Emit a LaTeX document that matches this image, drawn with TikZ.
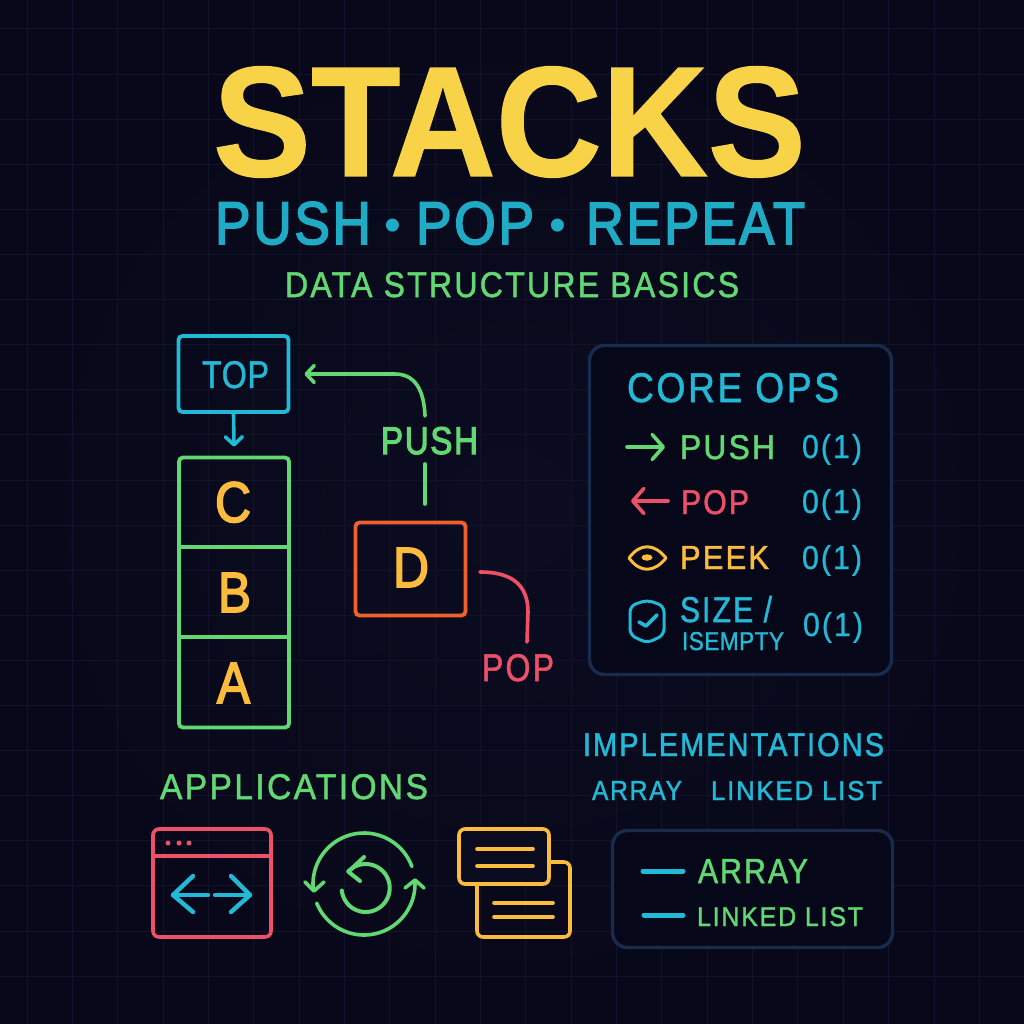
\documentclass[tikz,border=0pt]{standalone}
\usepackage{fontspec}
\usepackage{graphicx}
\usetikzlibrary{arrows.meta}
\setmainfont{Liberation Sans}
\newfontfamily\fr[FakeBold=1.4,LetterSpace=7]{Liberation Sans}
\newfontfamily\fs[FakeBold=1.2,LetterSpace=2]{Liberation Sans}
\newfontfamily\fo[FakeBold=0.8,LetterSpace=7]{Liberation Sans}
\newfontfamily\fm[FakeBold=3,LetterSpace=5]{Liberation Sans}
\newfontfamily\ft[FakeBold=0.8]{Liberation Sans Bold}
\definecolor{bgA}{HTML}{0C0C21}
\definecolor{bgB}{HTML}{08081A}
\definecolor{gridc}{HTML}{12122B}
\definecolor{panelf}{HTML}{07071A}
\definecolor{panelb}{HTML}{1A2A4A}
\definecolor{gold}{HTML}{F8D347}
\definecolor{cya}{HTML}{22B9D6}
\definecolor{gre}{HTML}{62D872}
\definecolor{amb}{HTML}{FBBB3C}
\definecolor{redd}{HTML}{EF5069}
\definecolor{orng}{HTML}{F0602F}
\tikzset{
  lab/.style={inner sep=0pt,outer sep=0pt,anchor=base west},
  boxx/.style={draw,line width=3.8pt,rounded corners=4pt,inner sep=0pt,minimum width=#1},
  panel/.style={draw=panelb,fill=panelf,fill opacity=.85,line width=3.4pt,rounded corners=15pt,inner sep=0pt},
  conn/.style={line width=3.6pt,line cap=round,line join=round},
  ico/.style={line width=3.6pt,line cap=round,line join=round},
  barb/.tip={Straight Barb[length=8pt,width=17pt,round]},
}
\newcommand\lbl[7]{\node[lab,text=#6] (#1) at (#2,#3) {\resizebox{#4pt}{#5pt}{#7}};}
\begin{document}
\begin{tikzpicture}[x=1pt,y=-1pt]
\useasboundingbox (0,0) rectangle (1024,1024);
\shade[inner color=bgA,outer color=bgB] (0,0) rectangle (1024,1024);
\foreach \i in {0,...,21}{
  \draw[gridc,line width=1pt] ({27+45.35*\i},0) -- ({27+45.35*\i},1024);
  \draw[gridc,line width=1pt] (0,{29+45.1*\i}) -- (1024,{29+45.1*\i});
}
% titles
\lbl{title}{213}{176}{592}{109.5}{gold}{\ft STACKS}
\lbl{subA}{215}{244}{156}{42}{cya!92!black}{\fm PUSH}
\node[lab,anchor=base,text=cya!92!black,font=\fontsize{48}{48}\selectfont] (dotA) at (392.5,241) {•};
\lbl{subB}{416}{244}{118}{42}{cya!92!black}{\fm POP}
\node[lab,anchor=base,text=cya!92!black,font=\fontsize{48}{48}\selectfont] (dotB) at (558,241) {•};
\lbl{subC}{586}{244}{219}{41}{cya!92!black}{\fm REPEAT}
\lbl{subtitle}{285}{297}{454}{25}{gre}{\fr DATA STRUCTURE BASICS}
% stack
\node[boxx=110pt,draw=cya,minimum height=76pt] (top) at (233.5,374) {};
\lbl{topt}{202}{388}{67}{27}{cya}{\fs TOP}
\node[boxx=110pt,draw=gre,minimum height=270pt] (stack) at (234,592.5) {};
\coordinate (d1l) at (179,547); \coordinate (d1r) at (289,547);
\coordinate (d2l) at (179,637); \coordinate (d2r) at (289,637);
\draw[gre,line width=3.8pt] (d1l) -- (d1r);
\draw[gre,line width=3.8pt] (d2l) -- (d2r);
\lbl{cC}{215}{522}{36}{40}{amb}{\fm C}
\lbl{cB}{218}{612}{33}{39}{amb}{\fm B}
\lbl{cA}{217}{703}{33}{40}{amb}{\fm A}
\draw[conn,cya,-{barb}] (top.south) -- ([yshift=9pt]stack.north);
% D box
\node[boxx=110pt,draw=orng,minimum height=93pt] (dbox) at (410.5,569) {};
\lbl{dt}{393}{587}{36}{39}{amb}{\fm D}
% push / pop
\lbl{pusht}{381}{454}{97}{27}{gre}{\fm PUSH}
\coordinate (pa) at (425,504); \coordinate (pb) at (425,464);
\coordinate (pc) at (425,416);
\draw[conn,gre] (pa) -- (pb);
\draw[conn,gre,-{barb}] (pc) .. controls (424,390) and (415,374) .. (395,374) -- ([xshift=14pt]top.east);
\coordinate (qa) at (480,572); \coordinate (qb) at (527,642);
\draw[conn,redd] (qa) .. controls (512,572) and (528,585) .. (528,612) -- (qb);
\lbl{popt}{482}{681}{72}{27}{redd}{\fr POP}
% core ops panel
\node[panel,minimum width=302pt,minimum height=329pt] (core) at (740.5,510) {};
\lbl{coret}{627}{402}{212}{29}{cya}{\fr CORE OPS}
\coordinate (a1) at (627,447); \coordinate (a2) at (665,447);
\draw[ico,gre,-{Straight Barb[length=11pt,width=25pt,round]}] (a1) -- (a2);
\lbl{pushl}{680}{459}{95}{24}{gre}{\fr PUSH}
\lbl{o1}{802}{458}{60}{24}{cya}{\fo 0(1)}
\coordinate (b1) at (668,501); \coordinate (b2) at (631,501);
\draw[ico,redd,-{Straight Barb[length=11pt,width=25pt,round]}] (b1) -- (b2);
\lbl{popl}{681}{514}{68}{24}{redd}{\fr POP}
\lbl{o2}{802}{513}{60}{24}{cya}{\fo 0(1)}
\draw[ico,amb,line width=3pt] (629,558) .. controls (640,543) and (654,543) .. (666,558) .. controls (654,573) and (640,573) .. (629,558) -- cycle;
\fill[amb] (647,557.5) ellipse [x radius=5.5, y radius=3.2];
\lbl{peekl}{680}{569}{89}{23}{amb}{\fr PEEK}
\lbl{o3}{802}{569}{60}{24}{cya}{\fo 0(1)}
\draw[ico,cya,line width=3pt,rounded corners=6pt] (647,600) -- (664,606) -- (664,635) -- (647,643) -- (630,635) -- (630,606) -- cycle;
\draw[ico,cya] (639,622) -- (646,626) -- (657,615);
\lbl{sizel}{680}{622}{92}{26}{cya}{\fr SIZE /}
\lbl{isl}{682}{650}{102}{18}{cya}{\fs ISEMPTY}
\lbl{o4}{803}{636}{60}{24}{cya}{\fo 0(1)}
% implementations
\lbl{impt}{583}{756}{301}{23}{cya}{\fr IMPLEMENTATIONS}
\lbl{impa}{592}{800}{90}{19}{cya}{\fr ARRAY}
\lbl{impl}{711}{800}{171}{19}{cya}{\fr LINKED LIST}
\node[panel,minimum width=280pt,minimum height=117pt] (impp) at (752.5,889) {};
\coordinate (l1a) at (643,871); \coordinate (l1b) at (683,871);
\coordinate (l2a) at (644,915); \coordinate (l2b) at (683,915);
\draw[cya,line width=5pt,line cap=round] (l1a) -- (l1b);
\draw[cya,line width=5pt,line cap=round] (l2a) -- (l2b);
\lbl{arrt}{698}{883}{110}{24}{gre}{\fr ARRAY}
\lbl{lint}{697}{926}{166}{19}{gre}{\fr LINKED LIST}
% applications
\lbl{appt}{160}{799}{268}{25}{gre}{\fr APPLICATIONS}
% browser
\draw[ico,redd,rounded corners=6pt] (153,829) rectangle (271,937);
\draw[ico,redd] (153,856) -- (271,856);
\foreach \p in {168,179,189} \fill[redd] (\p,843) circle [radius=2.5];
\draw[ico,cya,line width=4.4pt] (208,895) -- (173,895);
\draw[ico,cya,line width=4.4pt] (193,876) -- (173,895) -- (193,912);
\draw[ico,cya,line width=4.4pt] (215,895) -- (250,895);
\draw[ico,cya,line width=4.4pt] (231,876) -- (250,895) -- (231,912);
% cycle
\draw[ico,gre] plot[domain=20:187,samples=40,smooth] ({364+51*cos(\x)},{884-51*sin(\x)});
\draw[ico,gre] (305,882) -- (314,891) -- (324,882);
\draw[ico,gre] plot[domain=202:363,samples=40,smooth] ({364+51*cos(\x)},{884-51*sin(\x)});
\draw[ico,gre] (405,888) -- (415,880) -- (424,888);
\draw[ico,gre,line width=4pt] plot[domain=186:496,samples=60,smooth] ({365.7+24*cos(\x)},{888-24*sin(\x)});
\draw[ico,gre,line width=4pt] (364,857) -- (348.3,871.7) -- (360,881);
% cards
\draw[ico,amb,rounded corners=6pt] (477,862) rectangle (570,937);
\draw[ico,amb,fill=bgA,rounded corners=6pt] (459,829) rectangle (549,884);
\draw[ico,amb] (477,849) -- (533,849);
\draw[ico,amb] (477,866) -- (533,866);
\draw[ico,amb] (494,903) -- (553,903);
\draw[ico,amb] (494,917) -- (553,917);
\end{tikzpicture}
\end{document}
